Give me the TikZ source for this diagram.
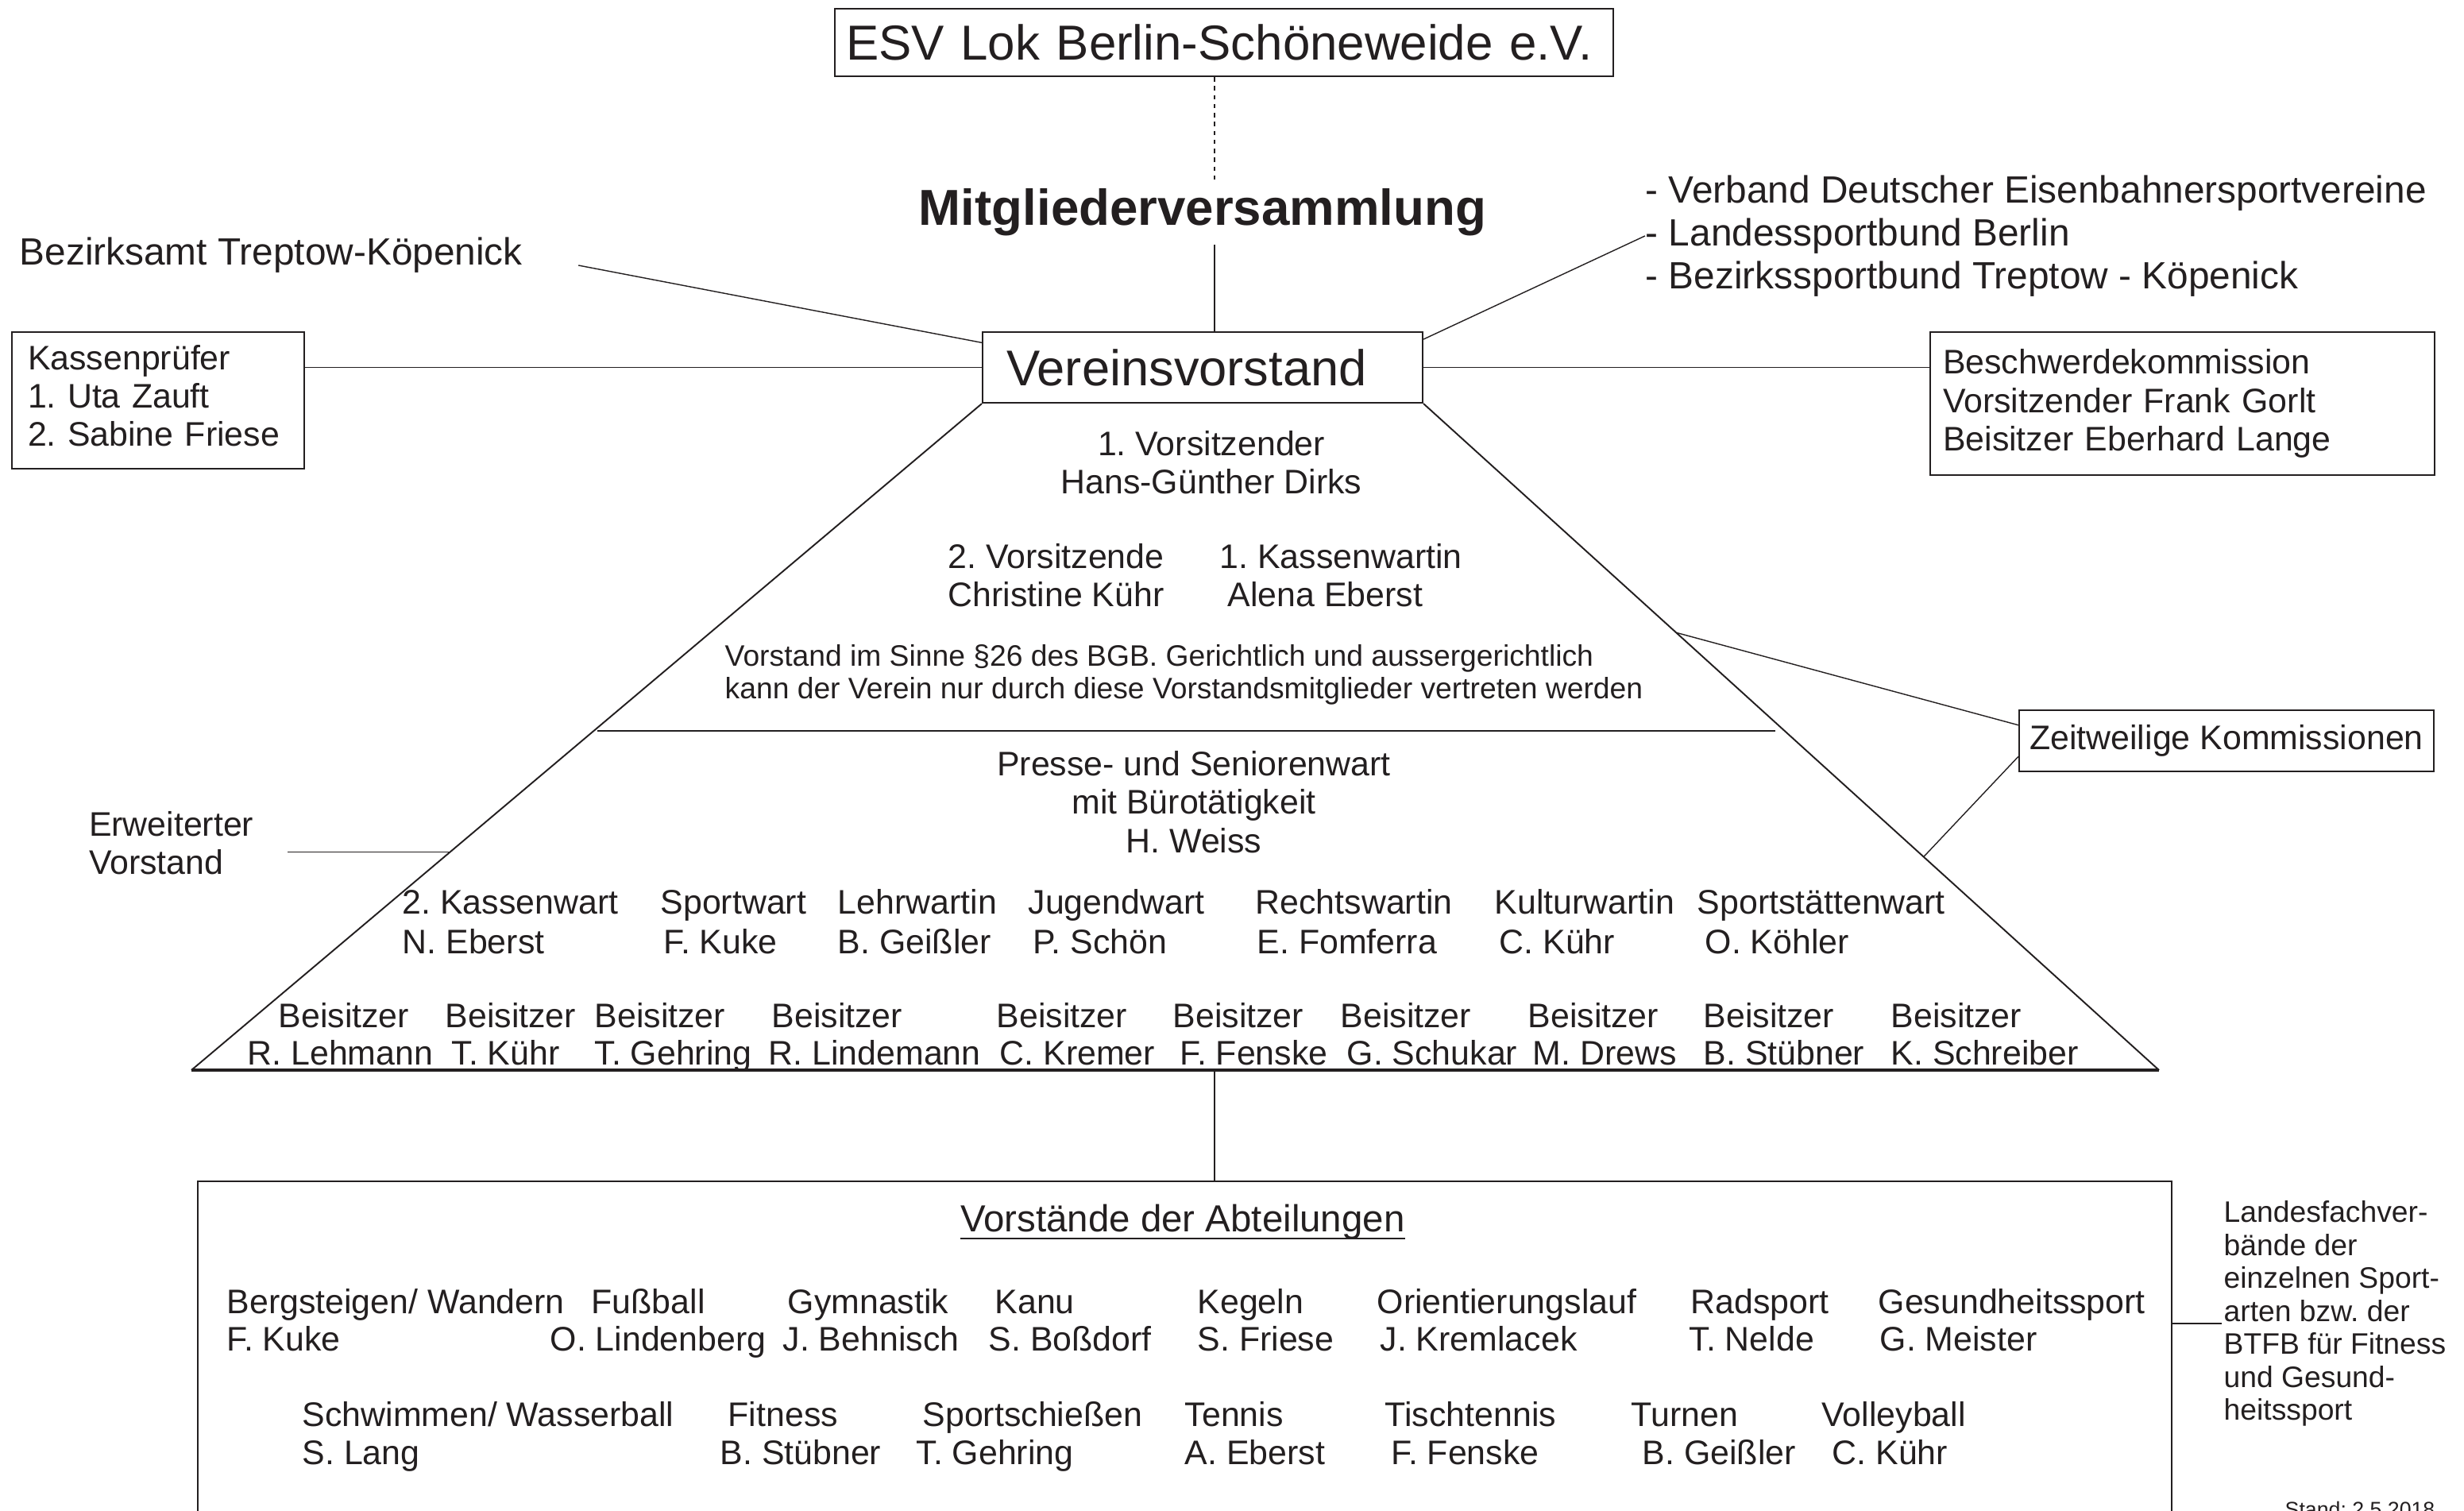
\documentclass[tikz,border=0pt]{standalone}
\usepackage{fontspec}
\setmainfont{Liberation Sans}
\usetikzlibrary{calc}
\definecolor{ink}{HTML}{231F20}
\frenchspacing
\newcommand{\txtnorm}{\fontsize{12.2pt}{13.7pt}\selectfont}
\newcommand{\txtmid}{\fontsize{13.6pt}{15.35pt}\selectfont}
\newcommand{\txtsmall}{\fontsize{10.6pt}{11.8pt}\selectfont}

\begin{document}
\begin{tikzpicture}[
  txt/.style={inner sep=0pt, anchor=base west, font=\txtnorm, text=ink},
  orgbox/.style={draw=ink, line width=0.6pt, inner ysep=0pt, text=ink},
  link/.style={draw=ink, line width=0.4pt},
  dotline/.style={draw=ink, line width=0.45pt, dash pattern=on 1.6pt off 1.6pt},
  edgeln/.style={draw=ink, line width=0.55pt},
  baseln/.style={draw=ink, line width=0.9pt}
]
\useasboundingbox (0,0) rectangle (31.02,-19.01);

\coordinate (axis) at (15.29,0);

% Verein, Mitglieder, Vorstand
\node[orgbox, anchor=north west, minimum height=0.85cm, text width=9.52cm, inner xsep=0.14cm, align=left, font=\fontsize{17.6pt}{20pt}\selectfont] (esv) at (10.50,-0.10) {ESV Lok Berlin-Schöneweide e.V.};
\node[inner sep=0.1cm, font=\fontsize{18.1pt}{21pt}\selectfont\bfseries, text=ink] (mv) at (15.14,-2.67) {Mitgliederversammlung};
\node[orgbox, anchor=north west, minimum height=0.89cm, text width=4.94cm, inner xsep=0.3cm, align=left, font=\fontsize{18pt}{21pt}\selectfont] (vv) at (12.36,-4.17) {Vereinsvorstand};

\node[txt, font=\txtmid] (ba) at (0.24,-3.33) {Bezirksamt Treptow-Köpenick};
\node[orgbox, anchor=north west, minimum height=1.72cm, text width=3.28cm, inner xsep=0.2cm, align=left, text depth=1.09cm, font=\fontsize{12.2pt}{13.66pt}\selectfont] (kp) at (0.14,-4.17) {Kassenprüfer\\1. Uta Zauft\\2. Sabine Friese};
\node[inner sep=0pt, anchor=north west, align=left, font=\txtmid, text=ink] (vb) at (20.71,-2.20) {- Verband Deutscher Eisenbahnersportvereine\\- Landessportbund Berlin\\- Bezirkssportbund Treptow - Köpenick};
\node[orgbox, anchor=north west, minimum height=1.80cm, text width=6.03cm, inner xsep=0.16cm, align=left, font=\fontsize{12.2pt}{13.8pt}\selectfont] (bk) at (24.29,-4.17) {Beschwerdekommission\\Vorsitzender Frank Gorlt\\Beisitzer Eberhard Lange};
\node[orgbox, minimum width=5.22cm, minimum height=0.77cm, font=\txtnorm] (zk) at (28.03,-9.325) {Zeitweilige Kommissionen};

\draw[dotline] (esv.south -| axis) -- (mv.north -| axis);
\draw[link] (mv.south -| axis) -- (vv.north -| axis);
\draw[link, shorten <=0.71cm] (ba.east) -- ($(vv.north west)!0.157!(vv.south west)$);
\draw[link] (vv.west) -- (vv.west -| kp.east);
\draw[link] (vv.east) -- (vv.east -| bk.west);
\draw[link] ($(vv.north east)!0.11!(vv.south east)$) -- (vb.west);

% Dreieck
\coordinate (tl) at (2.41,-13.47);
\coordinate (tr) at (27.18,-13.47);
\draw[edgeln] (vv.south west) -- (tl);
\draw[edgeln] (vv.south east) -- (tr);
\draw[baseln] (tl) -- (tr);

\node[inner sep=0pt, anchor=north, align=center, font=\txtnorm, text=ink] (vors) at (15.25,-5.42) {1. Vorsitzender\\Hans-Günther Dirks};
\node[txt] (vz2t) at (11.93,-7.15) {2. Vorsitzende};
\node[txt] (vz2n) at (11.93,-7.63) {Christine Kühr};
\node[txt] (kwt) at (15.35,-7.15) {1. Kassenwartin};
\node[txt] (kwn) at (15.45,-7.63) {Alena Eberst};
\node[inner sep=0pt, anchor=north west, align=left, font=\fontsize{10.6pt}{11.66pt}\selectfont, text=ink] (bgb) at (9.12,-8.11) {Vorstand im Sinne §26 des BGB. Gerichtlich und aussergerichtlich\\kann der Verein nur durch diese Vorstandsmitglieder vertreten werden};
\draw[ink, line width=0.8pt] (7.52,-9.20) -- (22.35,-9.20);
\node[inner sep=0pt, anchor=north, align=center, font=\txtnorm, text=ink] (presse) at (15.03,-9.45) {Presse- und Seniorenwart\\mit Bürotätigkeit\\H. Weiss};

\node[inner xsep=0.42cm, inner ysep=0pt, anchor=east, align=left, font=\txtnorm, text=ink] (ev) at (3.62,-10.615) {Erweiterter\\Vorstand};
\coordinate (el) at ($(vv.south west)!0.673!(tl)$);
\draw[link] (el) -- (el -| ev.east);

\foreach \xa/\xb/\ta/\tb [count=\i] in {5.06/5.06/2. Kassenwart/N. Eberst, 8.31/8.35/Sportwart/F. Kuke, 10.54/10.54/Lehrwartin/B. Geißler, 12.94/13.00/Jugendwart/P. Schön, 15.80/15.82/Rechtswartin/E. Fomferra, 18.81/18.87/Kulturwartin/C. Kühr, 21.36/21.46/Sportstättenwart/O. Köhler}
{
  \node[txt] (offt\i) at (\xa,-11.50) {\ta};
  \node[txt] (offn\i) at (\xb,-12.00) {\tb};
}

\foreach \xa/\xb/\tb [count=\i] in {3.50/3.11/R. Lehmann, 5.60/5.68/T. Kühr, 7.48/7.48/T. Gehring, 9.71/9.67/R. Lindemann, 12.54/12.58/C. Kremer, 14.76/14.85/F. Fenske, 16.87/16.95/G. Schukar, 19.23/19.29/M. Drews, 21.44/21.44/B. Stübner, 23.80/23.80/K. Schreiber}
{
  \node[txt] (beit\i) at (\xa,-12.93) {Beisitzer};
  \node[txt] (bein\i) at (\xb,-13.40) {\tb};
}

\draw[link] ($(vv.south east)!0.3435!(tr)$) -- ($(zk.north west)!0.25!(zk.south west)$);
\draw[link] ($(vv.south east)!0.68!(tr)$) -- ($(zk.north west)!0.75!(zk.south west)$);

% Abteilungen
\node[draw=ink, line width=0.7pt, anchor=north, minimum width=24.85cm, minimum height=4.4cm, inner sep=0pt] (abt) at (14.915,-14.86) {};
\coordinate (bm) at (tl -| axis);
\draw[link] (bm) -- (bm |- abt.north);

\node[inner sep=0pt, anchor=base, font=\fontsize{13.5pt}{15pt}\selectfont, text=ink] (abtt) at (14.89,-15.50) {Vorstände der Abteilungen};
\draw[ink, line width=0.8pt] ($(abtt.base west)+(0,-0.09)$) -- ($(abtt.base east)+(0,-0.09)$);

\foreach \xa/\xb/\ta/\tb [count=\i] in {2.85/2.85/{Bergsteigen/ Wandern}/F. Kuke, 7.44/6.92/Fußball/O. Lindenberg, 9.91/9.85/Gymnastik/J. Behnisch, 12.52/12.44/Kanu/S. Boßdorf, 15.07/15.07/Kegeln/S. Friese, 17.33/17.37/Orientierungslauf/J. Kremlacek, 21.28/21.26/Radsport/T. Nelde, 23.64/23.66/Gesundheitssport/G. Meister}
{
  \node[txt] (spa\i) at (\xa,-16.53) {\ta};
  \node[txt] (span\i) at (\xb,-17.00) {\tb};
}

\foreach \xa/\xb/\ta/\tb [count=\i] in {3.80/3.80/{Schwimmen/ Wasserball}/S. Lang, 9.16/9.06/Fitness/B. Stübner, 11.61/11.53/Sportschießen/T. Gehring, 14.91/14.91/Tennis/A. Eberst, 17.43/17.51/Tischtennis/F. Fenske, 20.53/20.67/Turnen/B. Geißler, 22.93/23.06/Volleyball/C. Kühr}
{
  \node[txt] (spb\i) at (\xa,-17.95) {\ta};
  \node[txt] (spbn\i) at (\xb,-18.43) {\tb};
}

\node[inner sep=0pt, anchor=north west, align=left, font=\txtsmall, text=ink] (lf) at (27.99,-15.11) {Landesfachver-\\bände der\\einzelnen Sport-\\arten bzw. der\\BTFB für Fitness\\und Gesund-\\heitssport};
\coordinate (lfl) at (27.97,-16.66);
\draw[link] (abt.east |- lfl) -- (lfl);

\node[txt, font=\fontsize{7.6pt}{9pt}\selectfont] (stand) at (28.76,-19.09) {Stand: 2.5.2018};

\end{tikzpicture}
\end{document}
